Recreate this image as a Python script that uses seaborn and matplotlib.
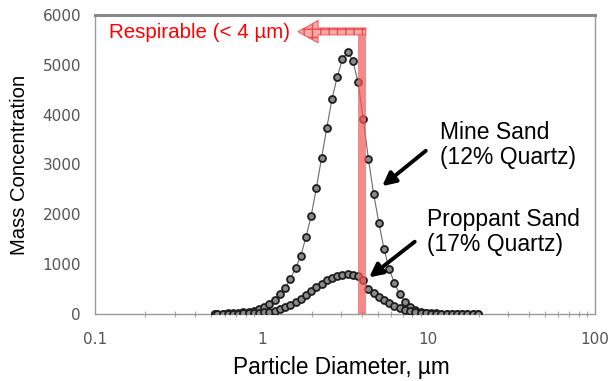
import numpy as np
import pandas as pd
import matplotlib
matplotlib.use("Agg")
import matplotlib.pyplot as plt
from matplotlib.patches import Polygon
import seaborn as sns

# ---- data ----
diameter = [0.523, 0.542, 0.583, 0.626, 0.673, 0.723, 0.777, 0.835, 0.898, 0.965,
            1.037, 1.114, 1.197, 1.286, 1.382, 1.486, 1.596, 1.715, 1.843, 1.981,
            2.129, 2.288, 2.458, 2.642, 2.839, 3.051, 3.278, 3.523, 3.786, 4.068,
            4.371, 4.698, 5.048, 5.425, 5.829, 6.264, 6.732, 7.234, 7.774, 8.354,
            8.977, 9.647, 10.37, 11.14, 11.97, 12.86, 13.82, 14.86, 15.96, 17.15,
            18.43, 19.81]
mine_sand = [10, 10, 10, 20, 20, 30, 40, 50, 70, 100,
             140, 200, 280, 400, 520, 700, 920, 1160, 1545, 1965,
             2530, 3130, 3730, 4315, 4755, 5115, 5255, 5085, 4655, 3915,
             3110, 2410, 1830, 1300, 900, 620, 400, 250, 150, 90,
             50, 30, 20, 15, 10, 10, 8, 6, 5, 4,
             3, 2]
proppant_sand = [5, 5, 5, 8, 8, 10, 12, 15, 20, 26,
                 35, 50, 70, 100, 140, 180, 240, 300, 380, 460,
                 545, 610, 675, 725, 765, 790, 800, 790, 755, 680,
                 500, 420, 350, 280, 220, 165, 120, 85, 60, 40,
                 25, 15, 10, 8, 6, 5, 5, 4, 4, 3,
                 3, 2]
x_ticks = [0.1, 1, 10, 100]
x_ticklabels = ["0.1", "1", "10", "100"]
y_ticks = [0, 1000, 2000, 3000, 4000, 5000, 6000]

df = pd.DataFrame({
    "d": diameter * 2,
    "c": mine_sand + proppant_sand,
    "s": ["Mine"] * len(diameter) + ["Proppant"] * len(diameter),
})

sns.set_style("white")
plt.rcParams["font.family"] = ["Liberation Sans", "DejaVu Sans"]

fig = plt.figure(figsize=(6.08, 3.81), dpi=100)
ax = fig.add_axes([95 / 608, 1 - 314 / 381, 500 / 608, 299 / 381])

sns.lineplot(data=df, x="d", y="c", hue="s", palette={"Mine": "#6a6a6a", "Proppant": "#6a6a6a"},
             marker="o", markersize=5.0, markerfacecolor="#8a8a8a", markeredgecolor="#1e1e1e",
             markeredgewidth=1.3, linewidth=0.8, legend=False, ax=ax, zorder=3)

ax.set_xscale("log")
ax.set_xlim(0.1, 100)
ax.set_ylim(0, 6000)
ax.set_xticks(x_ticks)
ax.set_xticklabels(x_ticklabels)
ax.set_yticks(y_ticks)
ax.set_yticklabels([str(v) for v in y_ticks])
ax.xaxis.set_minor_locator(matplotlib.ticker.LogLocator(base=10, subs=np.arange(2, 10)))
ax.xaxis.set_minor_formatter(matplotlib.ticker.NullFormatter())
ax.tick_params(axis="both", which="major", labelsize=11, labelcolor="#555555", colors="#999999",
               length=4, width=1, direction="out")
ax.tick_params(axis="x", which="major", pad=10, direction="inout", length=6)
ax.tick_params(axis="x", which="minor", colors="#aaaaaa", length=4, width=0.8, direction="inout", bottom=True)
ax.tick_params(axis="y", pad=6)
for lab in ax.get_xticklabels() + ax.get_yticklabels():
    lab.set_fontfamily(["DejaVu Sans"])

for side, sp in ax.spines.items():
    sp.set_visible(True)
    sp.set_color("#9a9a9a")
    sp.set_linewidth(1.0)
ax.spines["top"].set_linewidth(2.2)
ax.spines["top"].set_color("#8a8a8a")

ax.set_xlabel("Particle Diameter, µm", fontsize=16.3, color="black")
ax.set_ylabel("Mass Concentration", fontsize=14.6, color="black")
ax.yaxis.set_label_coords(-0.132, 0.5)
ax.xaxis.set_label_coords(0.493, -0.142)

# respirable marker: bar and arrow
bar_top = 5740
ax.axvspan(3.78, 4.22, ymin=0, ymax=bar_top / 6000, color="#f25a5a", alpha=0.72, lw=0, zorder=4)
arrow = Polygon([(4.22, bar_top), (2.18, bar_top), (2.18, 5890), (1.65, 5665),
                 (2.18, 5440), (2.18, 5600), (4.22, 5600)], closed=True,
                facecolor="#f7a8a8", edgecolor="#f04848", hatch="++", lw=0.6, zorder=5)
ax.add_patch(arrow)
ax.text(1.478, 5650, "Respirable (< 4 µm)", color="#ff0000", fontsize=14.8,
        ha="right", va="center", zorder=6)

# annotations
ax.annotate("", xy=(5.13, 2530), xytext=(9.94, 3310),
            arrowprops=dict(arrowstyle="-|>", lw=2.8, color="black", mutation_scale=20), zorder=6)
ax.text(11.74, 3390, "Mine Sand\n(12% Quartz)", fontsize=16.5, ha="left", va="center",
        linespacing=1.12, color="black")
ax.annotate("", xy=(4.28, 700), xytext=(8.54, 1485),
            arrowprops=dict(arrowstyle="-|>", lw=2.8, color="black", mutation_scale=20), zorder=6)
ax.text(9.81, 1650, "Proppant Sand\n(17% Quartz)", fontsize=16.5, ha="left", va="center",
        linespacing=1.12, color="black")

fig.savefig("out.png", dpi=100, facecolor="white")
